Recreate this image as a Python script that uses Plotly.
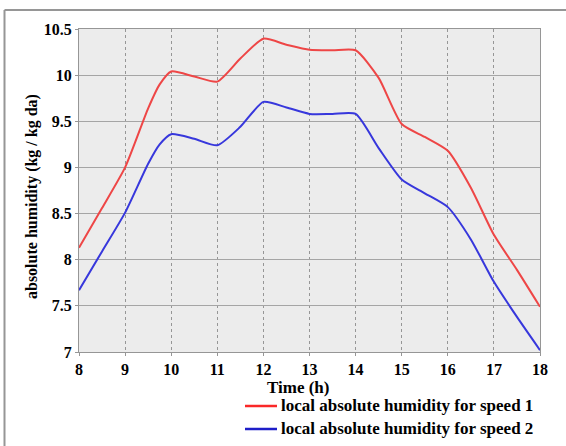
import plotly.graph_objects as go

# Data
time_h = [8, 8.5, 9, 9.5, 9.75, 10, 10.5, 11, 11.5, 12, 12.5, 13, 13.5, 14,
          14.5, 15, 15.5, 16, 16.5, 17, 17.5, 18]
speed1 = [8.13, 8.56, 9.00, 9.64, 9.90, 10.04, 9.985, 9.93, 10.18, 10.395, 10.33,
          10.275, 10.27, 10.27, 9.97, 9.47, 9.33, 9.18, 8.78, 8.27, 7.89, 7.49]
speed2 = [7.67, 8.09, 8.51, 9.04, 9.25, 9.36, 9.31, 9.24, 9.44, 9.71, 9.65,
          9.58, 9.58, 9.58, 9.21, 8.87, 8.72, 8.57, 8.22, 7.76, 7.38, 7.02]

x_ticks = [8, 9, 10, 11, 12, 13, 14, 15, 16, 17, 18]
y_ticks = [7, 7.5, 8, 8.5, 9, 9.5, 10, 10.5]
y_tick_text = ["7", "7.5", "8", "8.5", "9", "9.5", "10", "10.5"]

series_names = ["local absolute humidity for speed 1",
                "local absolute humidity for speed 2"]
series_colors = ["rgb(238,70,70)", "rgb(55,55,220)"]
legend_colors = ["rgb(250,40,40)", "rgb(30,30,200)"]

FONT = "Liberation Serif, Times New Roman, serif"

fig = go.Figure()
for name, ys, col in zip(series_names, [speed1, speed2], series_colors):
    fig.add_trace(go.Scatter(x=time_h, y=ys, mode="lines", name=name, showlegend=False,
                             line=dict(color=col, width=2, shape="spline", smoothing=0.6)))

W, H = 566, 446
L, R, T, B = 79, 26, 29, 94
pw, ph = W - L - R, H - T - B

def px_x(p):
    return (p - L) / pw

def px_y(p):
    return (H - B - p) / ph

tickfont = dict(family=FONT, size=16, weight="bold", color="black")

annotations = [
    dict(text="Time (h)", xref="paper", yref="paper", x=px_x(298), y=px_y(387),
         xanchor="center", yanchor="middle", showarrow=False,
         font=dict(family=FONT, size=17, weight="bold")),
    dict(text="absolute humidity (kg / kg da)", xref="paper", yref="paper",
         x=px_x(32), y=px_y(197), textangle=-90, xanchor="center", yanchor="middle",
         showarrow=False, font=dict(family=FONT, size=16, weight="bold")),
]
shapes = [
    dict(type="line", xref="paper", yref="paper", x0=px_x(4.5), x1=px_x(570),
         y0=px_y(10), y1=px_y(10), line=dict(color="rgb(150,150,150)", width=2)),
    dict(type="line", xref="paper", yref="paper", x0=px_x(4.5), x1=px_x(4.5),
         y0=px_y(10), y1=px_y(450), line=dict(color="rgb(150,150,150)", width=2)),
]

# manual legend below the plot
leg_y = [405, 428]
for name, col, yy in zip(series_names, legend_colors, leg_y):
    shapes.append(dict(type="line", xref="paper", yref="paper",
                       x0=px_x(245), x1=px_x(277), y0=px_y(yy + 1), y1=px_y(yy + 1),
                       line=dict(color=col, width=2.5)))
    annotations.append(dict(text=name, xref="paper", yref="paper", x=px_x(279), y=px_y(yy),
                            xanchor="left", yanchor="middle", showarrow=False,
                            font=dict(family=FONT, size=17, weight="bold")))

fig.update_layout(
    width=W, height=H,
    margin=dict(l=L, r=R, t=T, b=B),
    paper_bgcolor="white",
    plot_bgcolor="rgb(236,236,236)",
    font=dict(family=FONT, size=16, color="black", weight="bold"),
    showlegend=False,
    xaxis=dict(range=[8, 18], tickvals=x_ticks, ticktext=[str(v) for v in x_ticks],
               showgrid=True, gridcolor="rgb(150,150,150)", griddash="dot", gridwidth=1,
               showline=True, linecolor="rgb(150,150,150)", linewidth=1, mirror=True,
               ticks="outside", ticklen=3, tickcolor="rgb(150,150,150)",
               zeroline=False, tickfont=tickfont, automargin=False),
    yaxis=dict(range=[7, 10.5], tickvals=y_ticks, ticktext=y_tick_text,
               showgrid=True, gridcolor="rgb(165,165,165)", gridwidth=1,
               showline=True, linecolor="rgb(150,150,150)", linewidth=1, mirror=True,
               ticks="outside", ticklen=3, tickcolor="rgb(150,150,150)",
               zeroline=False, tickfont=tickfont, automargin=False),
    annotations=annotations,
    shapes=shapes,
)

fig.write_html("out.html")
